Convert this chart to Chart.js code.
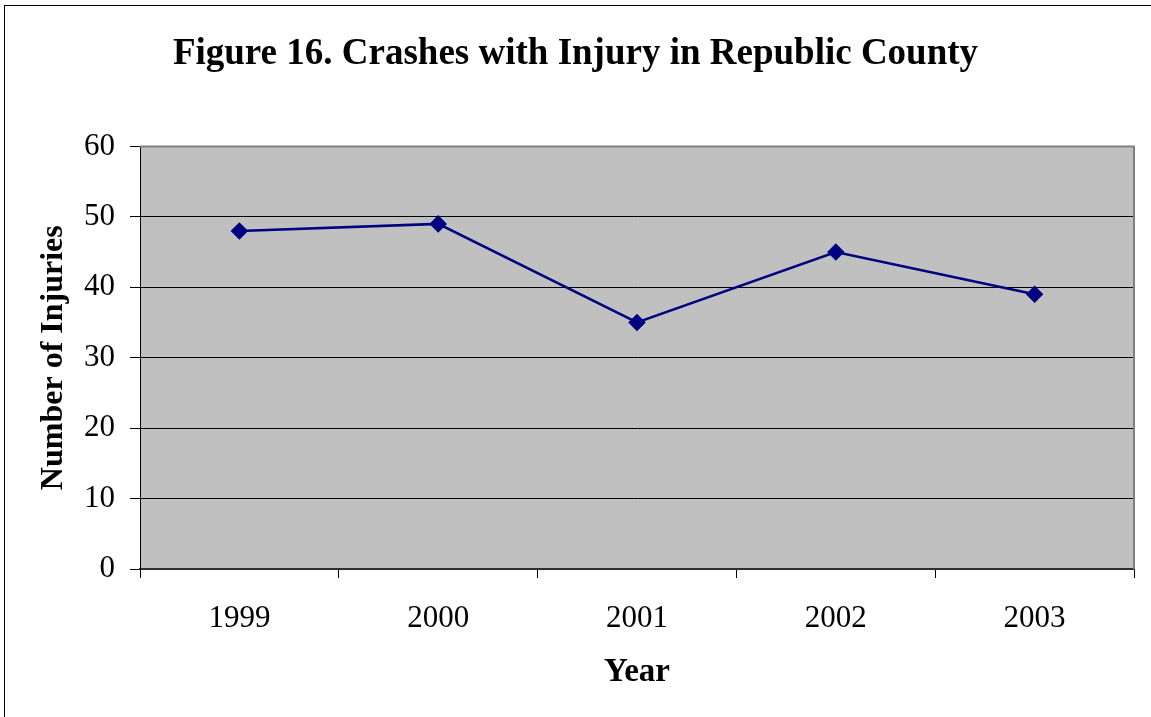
<!DOCTYPE html>
<html>
<head>
<meta charset="utf-8">
<script src="https://cdn.jsdelivr.net/npm/chart.js@4.4.0/dist/chart.umd.min.js"></script>
<style>
  html, body { margin: 0; padding: 0; background: #fff; }
  #wrap { position: relative; width: 1151px; height: 717px; overflow: hidden; }
  #frame { position: absolute; left: 4px; top: 5px; width: 1200px; height: 800px; border: 1px solid #000; }
  #chart { position: absolute; left: 0; top: 0; }
</style>
</head>
<body>
<div id="wrap">
  <div id="frame"></div>
  <canvas id="chart" width="1151" height="717"></canvas>
</div>
<script>
const years = ["1999", "2000", "2001", "2002", "2003"];
const injuries = [48, 49, 35, 45, 39];
const yTicks = [0, 10, 20, 30, 40, 50, 60];

const FONT = "'Liberation Serif', 'Times New Roman', serif";

// grey plot area plus the grey top/right edge
const plotBg = {
  id: "plotBg",
  beforeDraw(chart) {
    const { ctx, chartArea: a } = chart;
    ctx.save();
    ctx.fillStyle = "#c0c0c0";
    ctx.fillRect(a.left, a.top, a.right - a.left, a.bottom - a.top);
    ctx.restore();
  },
  afterDatasetsDraw(chart) {
    const { ctx, chartArea: a } = chart;
    ctx.save();
    ctx.strokeStyle = "#808080";
    ctx.lineWidth = 2;
    ctx.beginPath();
    ctx.moveTo(a.left, a.top);
    ctx.lineTo(a.right, a.top);
    ctx.lineTo(a.right, a.bottom);
    ctx.stroke();
    ctx.restore();
  },
};

new Chart(document.getElementById("chart"), {
  type: "line",
  data: {
    labels: years,
    datasets: [{
      data: injuries,
      borderColor: "#000080",
      backgroundColor: "#000080",
      borderWidth: 2.5,
      pointStyle: "rectRot",
      pointRadius: 7,
      pointHoverRadius: 7,
      tension: 0,
    }],
  },
  options: {
    responsive: false,
    animation: false,
    events: [],
    layout: { padding: 0 },
    plugins: {
      legend: { display: false },
      tooltip: { enabled: false },
      title: {
        display: true,
        text: "Figure 16. Crashes with Injury in Republic County",
        color: "#000",
        font: { family: FONT, size: 37, weight: "bold" },
        padding: { top: 32, bottom: 70 },
      },
    },
    scales: {
      x: {
        offset: true,
        afterFit(scale) { scale.height = 148; },
        grid: {
          offset: true,
          drawOnChartArea: false,
          color: "#000",
          tickLength: 9,
        },
        border: { color: "#303030", width: 2 },
        ticks: {
          color: "#000",
          font: { family: FONT, size: 31 },
          padding: 22,
          maxRotation: 0,
        },
        title: {
          display: true,
          text: "Year",
          color: "#000",
          font: { family: FONT, size: 33, weight: "bold" },
          padding: { top: 0, bottom: 25 },
        },
      },
      y: {
        min: 0,
        max: 60,
        afterFit(scale) { scale.width = 140; },
        afterBuildTicks(scale) { scale.ticks = yTicks.map(v => ({ value: v })); },
        grid: {
          color: (c) => (c.tick && c.tick.value === 60 ? "#808080" : "#000"),
          tickColor: "#000",
          tickLength: 10,
          lineWidth: 1,
        },
        border: { color: "#000", width: 1 },
        ticks: {
          color: "#000",
          font: { family: FONT, size: 31 },
          padding: 15,
        },
        title: {
          display: true,
          text: "Number of Injuries",
          color: "#000",
          font: { family: FONT, size: 32, weight: "bold" },
          padding: { top: 35, bottom: 0 },
        },
      },
      // empty right-hand axis that only reserves the white margin
      yRight: {
        position: "right",
        afterFit(scale) { scale.width = 17; },
        grid: { display: false },
        border: { display: false },
        ticks: { display: false },
      },
    },
  },
  plugins: [plotBg],
});
</script>
</body>
</html>
